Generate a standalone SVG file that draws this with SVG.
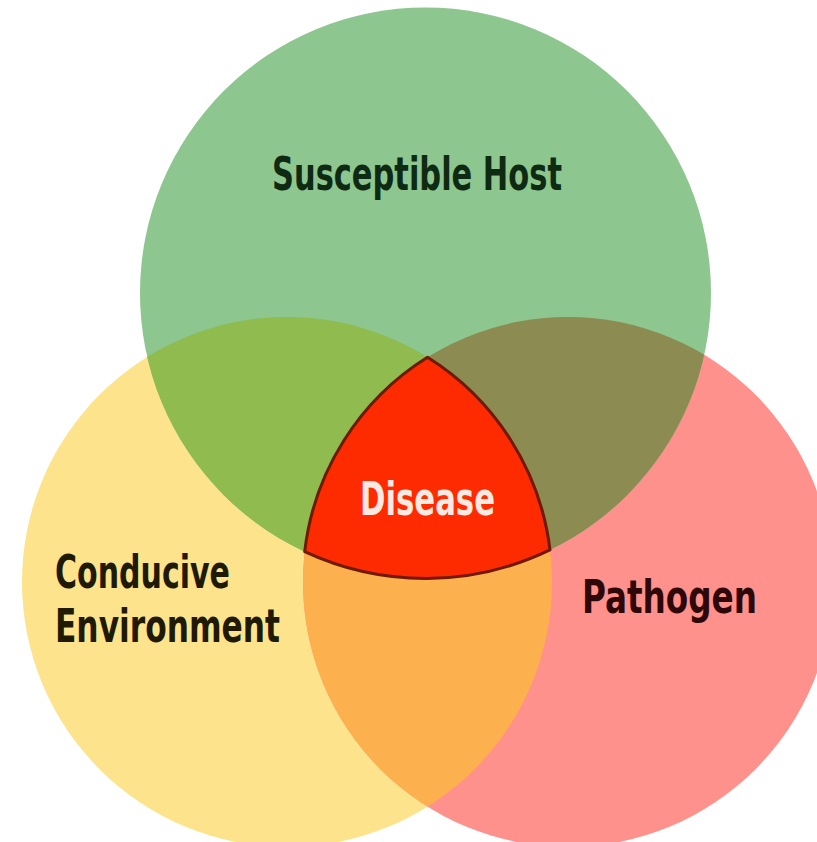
<svg xmlns="http://www.w3.org/2000/svg" width="817" height="842" viewBox="0 0 817 842">
<style>
.lbl{font-family:"Liberation Sans Narrow","DejaVu Sans Condensed","Liberation Sans",sans-serif;font-weight:bold;font-size:46px;}
</style>
<defs>
<clipPath id="cG"><circle cx="425.5" cy="293" r="285.5"/></clipPath>
<clipPath id="cY"><circle cx="287" cy="582" r="265"/></clipPath>
</defs>
<rect width="817" height="842" fill="#ffffff"/>
<g id="environment">
<circle cx="287" cy="582" r="265" fill="#fde48c"/>
</g>
<g id="pathogen">
<circle cx="568" cy="582" r="265" fill="#ff918c"/>
</g>
<g id="host">
<circle cx="425.5" cy="293" r="285.5" fill="#8dc68f"/>
</g>
<g id="overlaps">
<circle cx="568" cy="582" r="265" fill="#fdb04e" clip-path="url(#cY)"/>
<circle cx="287" cy="582" r="265" fill="#8fbb4f" clip-path="url(#cG)"/>
<circle cx="568" cy="582" r="265" fill="#8c8b52" clip-path="url(#cG)"/>
</g>
<g id="disease">
<path d="M427.5,357.3 A265,265 0 0 1 550,549.9 A285.5,285.5 0 0 1 304.7,551.7 A265,265 0 0 1 427.5,357.3 Z" fill="#fe2a00" stroke="#6e1a05" stroke-width="3" stroke-linejoin="round"/>
<text class="lbl" x="360" y="515" textLength="135" lengthAdjust="spacingAndGlyphs" fill="#fde8e2">Disease</text>
</g>
<g id="labels">
<text class="lbl" x="272" y="190" textLength="290" lengthAdjust="spacingAndGlyphs" fill="#0f2a12">Susceptible Host</text>
<text class="lbl" x="55" y="588" textLength="175" lengthAdjust="spacingAndGlyphs" fill="#201a05">Conducive</text>
<text class="lbl" x="55" y="642" textLength="225" lengthAdjust="spacingAndGlyphs" fill="#201a05">Environment</text>
<text class="lbl" x="582" y="613" textLength="175" lengthAdjust="spacingAndGlyphs" fill="#2e0808">Pathogen</text>
</g>
</svg>
